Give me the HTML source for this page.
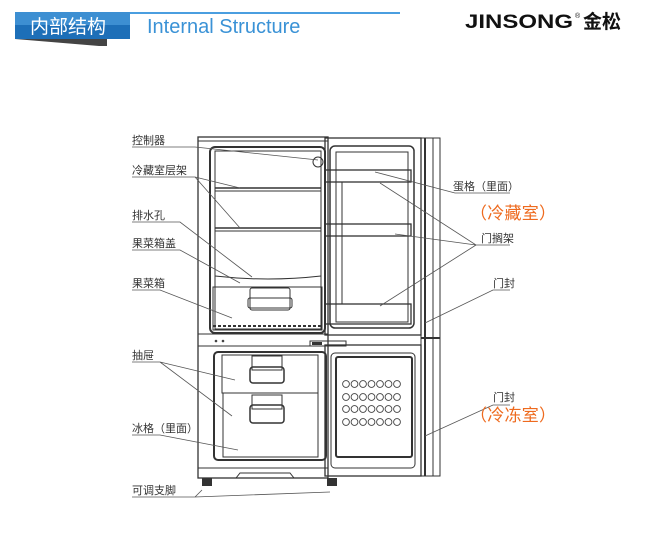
<!DOCTYPE html>
<html><head><meta charset="utf-8"><style>
body{margin:0;background:#fff;}
svg{display:block;}
text{font-family:"Liberation Sans","Noto Sans CJK SC",sans-serif;}
</style></head><body>
<svg width="650" height="556" viewBox="0 0 650 556" xmlns="http://www.w3.org/2000/svg">
<!-- header -->
<polygon points="15,39 107,39 107,46 99,46" fill="#444"/>
<rect x="15" y="12" width="115" height="27" fill="#1d6fb8"/>
<rect x="15" y="12" width="115" height="13" fill="#3d8fd2"/>
<line x1="130" y1="13" x2="400" y2="13" stroke="#4a9ee0" stroke-width="2"/>
<text x="30" y="33" font-size="19" fill="#fff">内部结构</text>
<text x="147" y="33" font-size="20" fill="#3a92d6">Internal Structure</text>
<text x="465" y="28" font-size="19" font-weight="bold" fill="#111" textLength="108" lengthAdjust="spacingAndGlyphs">JINSONG</text>
<text x="575" y="18" font-size="7" fill="#111">®</text>
<text x="583" y="28" font-size="19" font-weight="bold" fill="#111">金松</text>

<g fill="none" stroke="#333" stroke-width="1">
<!-- cabinet -->
<rect x="198" y="137" width="130" height="341" stroke-width="1.3"/>
<line x1="198" y1="141" x2="328" y2="141"/>
<rect x="210" y="147" width="115" height="186" rx="5" stroke-width="2"/>
<rect x="215" y="151" width="106" height="178"/>
<line x1="215" y1="188" x2="321" y2="188" stroke-width="1.5"/>
<line x1="215" y1="191" x2="321" y2="191"/>
<line x1="215" y1="228" x2="321" y2="228" stroke-width="1.5"/>
<line x1="215" y1="231" x2="321" y2="231"/>
<path d="M215 276 Q268 282 321 276"/>
<rect x="213" y="287" width="109" height="43"/>
<rect x="250" y="288" width="40" height="22" rx="2"/>
<rect x="248" y="298" width="44" height="10" rx="2"/>
<line x1="213" y1="326" x2="322" y2="326" stroke-dasharray="3 2" stroke-width="2"/>
<!-- divider -->
<line x1="198" y1="334" x2="328" y2="334"/>
<line x1="198" y1="346" x2="328" y2="346"/>
<!-- lower -->
<rect x="214" y="352" width="112" height="108" rx="4" stroke-width="2"/>
<rect x="222" y="355" width="96" height="38"/>
<rect x="223" y="393" width="95" height="64"/>
<rect x="252" y="356" width="30" height="14"/>
<rect x="250" y="367" width="34" height="16" rx="3" stroke-width="1.5"/>
<rect x="252" y="395" width="30" height="14"/>
<rect x="250" y="405" width="34" height="18" rx="3" stroke-width="1.5"/>
<line x1="198" y1="468" x2="328" y2="468"/>
<path d="M212 478 L236 478 L240 473 L290 473 L294 478 L327 478"/>
<!-- upper door -->
<rect x="325" y="138" width="96" height="197" stroke-width="1.3"/>
<rect x="330" y="146" width="84" height="182" rx="5" stroke-width="1.5"/>
<rect x="336" y="152" width="72" height="170"/>
<rect x="325" y="170" width="86" height="12" stroke-width="1.3"/>
<rect x="325" y="224" width="86" height="12" stroke-width="1.3"/>
<rect x="325" y="304" width="86" height="20" stroke-width="1.3"/>
<line x1="342" y1="182" x2="342" y2="304"/>
<!-- side strips -->
<rect x="421" y="138" width="19" height="338"/>
<line x1="425" y1="138" x2="425" y2="476" stroke-width="2"/>
<line x1="433" y1="138" x2="433" y2="476"/>
<line x1="421" y1="338" x2="440" y2="338" stroke-width="2"/>
<!-- freezer door -->
<rect x="325" y="345" width="96" height="131" stroke-width="1.3"/>
<rect x="331" y="353" width="84" height="115" rx="4"/>
<rect x="336" y="357" width="76" height="100" rx="2" stroke-width="2"/>
<rect x="310" y="341" width="36" height="5"/>
</g>
<rect x="312" y="342" width="10" height="3" fill="#333"/>
<circle cx="216" cy="341" r="1.3" fill="#444"/><circle cx="223" cy="341" r="1.3" fill="#444"/>
<rect x="202" y="478" width="10" height="8" fill="#333"/>
<rect x="327" y="478" width="10" height="8" fill="#333"/>
<circle cx="318" cy="162" r="5" fill="none" stroke="#333"/>
<g fill="none" stroke="#444" stroke-width="0.9">
<g id="row">
<circle cx="346" cy="384" r="3.4"/><circle cx="354.5" cy="384" r="3.4"/><circle cx="363" cy="384" r="3.4"/><circle cx="371.5" cy="384" r="3.4"/><circle cx="380" cy="384" r="3.4"/><circle cx="388.5" cy="384" r="3.4"/><circle cx="397" cy="384" r="3.4"/>
</g>
<use href="#row" y="13"/><use href="#row" y="25"/><use href="#row" y="38"/>
</g>

<!-- leaders -->
<g stroke="#555" stroke-width="0.8" fill="none">
<path d="M132 147 H195 L318 160"/>
<path d="M132 177 H195 L240 188 M195 177 L240 228"/>
<path d="M132 222 H180 L252 277"/>
<path d="M132 250 H180 L240 283"/>
<path d="M132 290 H160 L232 318"/>
<path d="M132 362 H160 L235 380 M160 362 L232 416"/>
<path d="M132 435 H160 L238 450"/>
<path d="M132 497 H195 L202 490 M195 497 L330 492"/>
<path d="M510 193 H455 L375 172"/>
<path d="M510 245 H476 L380 183 M476 245 L395 234 M476 245 L380 306"/>
<path d="M510 290 H493 L425 323"/>
<path d="M510 405 H493 L425 436"/>
</g>
<g font-size="11" fill="#333">
<text x="132" y="144">控制器</text>
<text x="132" y="174">冷藏室层架</text>
<text x="132" y="219">排水孔</text>
<text x="132" y="247">果菜箱盖</text>
<text x="132" y="287">果菜箱</text>
<text x="132" y="359">抽屉</text>
<text x="132" y="432">冰格（里面）</text>
<text x="132" y="494">可调支脚</text>
<text x="453" y="190">蛋格（里面）</text>
<text x="481" y="242">门搁架</text>
<text x="493" y="287">门封</text>
<text x="493" y="401">门封</text>
</g>
<g font-size="17" fill="#ee6a1e">
<text x="470" y="219" textLength="86">（冷藏室）</text>
<text x="470" y="421" textLength="86">（冷冻室）</text>
</g>
</svg>
</body></html>
